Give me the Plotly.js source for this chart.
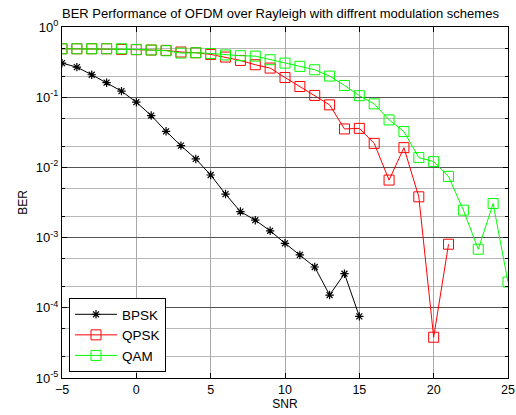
<!DOCTYPE html>
<html>
<head>
<meta charset="utf-8">
<script src="https://cdn.plot.ly/plotly-3.0.1.min.js"></script>
<style>html,body{margin:0;padding:0;background:#fff;}#chart{width:516px;height:415px;}</style>
</head>
<body>
<div id="chart"></div>
<script>
const snr = [-5,-4,-3,-2,-1,0,1,2,3,4,5,6,7,8,9,10,11,12,13,14,15,16,17,18,19,20,21,22,23,24,25];
const bpskSnr = snr.slice(0, 21);
const bpskBer = [0.306,0.268,0.209,0.161,0.122,0.0849,0.0548,0.0327,0.0204,0.0132,0.00779,0.00417,0.00235,0.00177,0.00125,0.00083,0.000566,0.000381,0.000152,0.000306,0.0000754];
const qpskSnr = snr.slice(0, 27);
const qpskBer = [0.49,0.49,0.49,0.49,0.48,0.475,0.47,0.464,0.44,0.43,0.407,0.373,0.334,0.29,0.26,0.191,0.142,0.106,0.0778,0.0353,0.036,0.022,0.0066,0.0191,0.00381,0.0000381,0.000805];
const qamSnr = snr;
const qamBer = [0.49,0.49,0.49,0.49,0.49,0.48,0.47,0.459,0.425,0.43,0.42,0.40,0.39,0.385,0.342,0.306,0.275,0.246,0.2,0.147,0.105,0.0804,0.0475,0.0324,0.0138,0.0121,0.00744,0.00246,0.000683,0.00306,0.000233];
const seriesNames = ['BPSK','QPSK','QAM'];
const xTicks = [-5,0,5,10,15,20,25];
const yTicks = [1,0.1,0.01,0.001,0.0001,0.00001];
const yTickText = ['10<sup>0</sup>','10<sup>-1</sup>','10<sup>-2</sup>','10<sup>-3</sup>','10<sup>-4</sup>','10<sup>-5</sup>'];

const traces = [
  {x: bpskSnr, y: bpskBer, name: seriesNames[0], mode: 'lines+markers',
   line: {color: '#000000', width: 1}, marker: {symbol: 'asterisk-open', size: 7, color: '#000000', line: {color: '#000000', width: 1.2}}},
  {x: qpskSnr, y: qpskBer, name: seriesNames[1], mode: 'lines+markers',
   line: {color: '#ff0000', width: 1}, marker: {symbol: 'square-open', size: 10, color: '#ff0000', line: {color: '#ff0000', width: 1}}},
  {x: qamSnr, y: qamBer, name: seriesNames[2], mode: 'lines+markers',
   line: {color: '#00ff00', width: 1}, marker: {symbol: 'square-open', size: 10, color: '#00ff00', line: {color: '#00ff00', width: 1}}}
];

const layout = {
  width: 516, height: 415,
  margin: {l: 62, r: 8, t: 27, b: 37},
  paper_bgcolor: '#ffffff', plot_bgcolor: '#ffffff',
  font: {family: 'Liberation Sans, Arial, sans-serif', size: 12, color: '#000'},
  title: {text: 'BER Performance of OFDM over Rayleigh with diffrent modulation schemes',
          x: 62/516, xanchor: 'left', y: 1 - 13/415, yanchor: 'middle', font: {size: 13}},
  xaxis: {range: [-5, 25], tickvals: xTicks, ticks: 'inside', ticklen: 5, tickcolor: '#000',
          tickfont: {size: 12.5},
          showline: true, mirror: 'ticks', linecolor: '#000', linewidth: 1,
          showgrid: true, gridcolor: '#a8a8a8', gridwidth: 1, zeroline: false,
          title: {text: 'SNR', standoff: 3, font: {size: 12}}},
  yaxis: {type: 'log', range: [-5, 0], tickvals: yTicks, ticktext: yTickText, ticks: 'inside', ticklen: 5, tickcolor: '#000',
          tickfont: {size: 13},
          showline: true, mirror: 'ticks', linecolor: '#000', linewidth: 1,
          showgrid: true, gridcolor: '#555555', gridwidth: 1, zeroline: false,
          minor: {showgrid: true, gridcolor: '#b8b8b8', gridwidth: 1, ticks: 'inside', ticklen: 3, tickcolor: '#000'},
          title: {text: 'BER', standoff: 5, font: {size: 12}}},
  showlegend: true,
  legend: {x: 0.0157, y: 0.017, xanchor: 'left', yanchor: 'bottom', bgcolor: '#ffffff',
           bordercolor: '#000', borderwidth: 1, font: {size: 13.5}, tracegroupgap: 0, itemwidth: 42}
};

Plotly.newPlot('chart', traces, layout, {displayModeBar: false, staticPlot: true});
</script>
</body>
</html>
